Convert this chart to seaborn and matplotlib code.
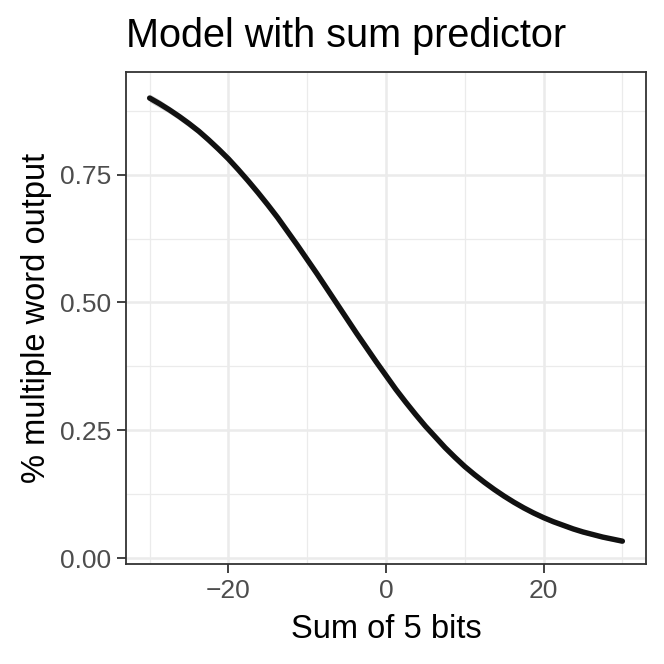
import matplotlib
matplotlib.use("Agg")
import matplotlib.pyplot as plt
import seaborn as sns
import pandas as pd
from matplotlib.ticker import FixedLocator

sum_bits = [-30, -28.75, -27.5, -26.25, -25, -23.75, -22.5, -21.25, -20, -18.75,
            -17.5, -16.25, -15, -13.75, -12.5, -11.25, -10, -8.75, -7.5, -6.25,
            -5, -3.75, -2.5, -1.25, 0, 1.25, 2.5, 3.75, 5, 6.25,
            7.5, 8.75, 10, 11.25, 12.5, 13.75, 15, 16.25, 17.5, 18.75,
            20, 21.25, 22.5, 23.75, 25, 26.25, 27.5, 28.75, 30]
fit = [0.900, 0.889, 0.877, 0.864, 0.850, 0.835, 0.818, 0.800, 0.781, 0.760,
       0.738, 0.715, 0.691, 0.666, 0.639, 0.612, 0.584, 0.556, 0.527, 0.498,
       0.469, 0.440, 0.412, 0.384, 0.357, 0.330, 0.305, 0.281, 0.258, 0.237,
       0.216, 0.197, 0.179, 0.163, 0.148, 0.134, 0.121, 0.109, 0.098, 0.088,
       0.079, 0.071, 0.064, 0.057, 0.051, 0.046, 0.041, 0.037, 0.033]
se_band = [0.008, 0.008, 0.007, 0.007, 0.007, 0.006, 0.006, 0.006, 0.006, 0.005,
           0.005, 0.005, 0.005, 0.004, 0.004, 0.004, 0.004, 0.004, 0.004, 0.004,
           0.004, 0.004, 0.004, 0.004, 0.004, 0.004, 0.004, 0.004, 0.004, 0.004,
           0.004, 0.004, 0.004, 0.004, 0.004, 0.004, 0.004, 0.004, 0.004, 0.004,
           0.004, 0.004, 0.004, 0.004, 0.004, 0.004, 0.004, 0.004, 0.004]
x_ticks = [-20, 0, 20]
x_tick_labels = ["\u221220", "0", "20"]
y_ticks = [0.00, 0.25, 0.50, 0.75]
y_tick_labels = ["0.00", "0.25", "0.50", "0.75"]

df = pd.DataFrame({"x": sum_bits, "y": fit})
lower = [f - s for f, s in zip(fit, se_band)]
upper = [f + s for f, s in zip(fit, se_band)]

sns.set_theme(style="white")
plt.rcParams["font.family"] = ["Liberation Sans", "DejaVu Sans"]

fig = plt.figure(figsize=(6.64, 6.64), dpi=100)
ax = fig.add_axes([126/664, 1 - 564/664, (646 - 126)/664, (564 - 72)/664])

ax.fill_between(sum_bits, lower, upper, color="#999999", alpha=0.4, linewidth=0, zorder=3)
sns.lineplot(data=df, x="x", y="y", ax=ax, color="#111111", linewidth=3.9, zorder=4)

ax.set_xlim(-33, 33)
ax.set_ylim(-0.0117, 0.951)

ax.xaxis.set_major_locator(FixedLocator(x_ticks))
ax.set_xticklabels(x_tick_labels)
ax.yaxis.set_major_locator(FixedLocator(y_ticks))
ax.set_yticklabels(y_tick_labels)
ax.xaxis.set_minor_locator(FixedLocator([-30, -10, 10, 30]))
ax.yaxis.set_minor_locator(FixedLocator([0.125, 0.375, 0.625, 0.875]))

ax.grid(True, which="major", color="#EBEBEB", linewidth=1.8, zorder=0)
ax.grid(True, which="minor", color="#EBEBEB", linewidth=0.9, zorder=0)
ax.set_axisbelow(True)

for s in ax.spines.values():
    s.set_color("#333333")
    s.set_linewidth(1.3)
    s.set_visible(True)

ax.tick_params(axis="both", which="major", length=6.5, width=1.3, color="#333333",
               labelcolor="#4D4D4D", labelsize=19, pad=4, bottom=True, left=True)
ax.tick_params(axis="both", which="minor", length=0)

ax.set_xlabel("Sum of 5 bits", fontsize=23.5, color="black", labelpad=8)
ax.set_ylabel("% multiple word output", fontsize=23.5, color="black", labelpad=6)
ax.set_title("Model with sum predictor", fontsize=28.5, color="black", loc="left", pad=18)

fig.savefig("out.png", dpi=100, facecolor="white")
